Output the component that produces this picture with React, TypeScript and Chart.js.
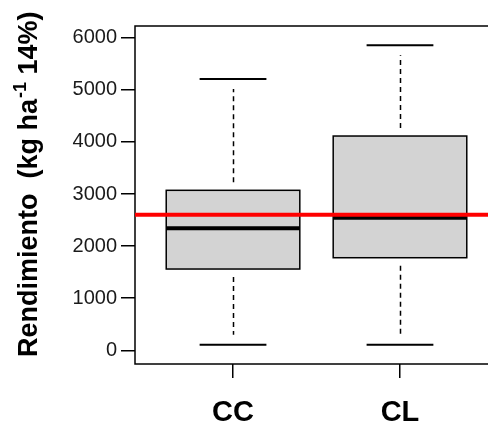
import { useEffect, useRef } from "react";
import { Chart, registerables } from "chart.js";
Chart.register(...registerables);

const categories = ["CC", "CL"];
const positions = [1, 2];
const whiskerLow = [107, 107];
const q1 = [1560, 1777];
const median = [2342, 2545];
const q3 = [3071, 4113];
const whiskerHigh = [5207, 5854];
const referenceValue = 2603;
const yTicks = [0, 1000, 2000, 3000, 4000, 5000, 6000];
const yTitleMain = "Rendimiento  (kg ha";
const yTitleSup = "-1";
const yTitleEnd = " 14%)";

const FONT = "'Liberation Sans', Arial, Helvetica, sans-serif";

export default function App() {
  const ref = useRef<HTMLCanvasElement>(null);
  useEffect(() => {
    if (!ref.current) return;
    const boxPlugin = {
      id: "boxplot",
      afterDatasetsDraw(chart: any) {
        const { ctx, chartArea: a, scales } = chart;
        const x = scales.x;
        const y = scales.y;
        ctx.save();
        const halfBox = 0.4;
        const halfCap = 0.2;
        positions.forEach((p, i) => {
          const xl = x.getPixelForValue(p - halfBox);
          const xr = x.getPixelForValue(p + halfBox);
          const xc = Math.round(x.getPixelForValue(p)) + 0.5;
          const yq1 = y.getPixelForValue(q1[i]);
          const yq3 = y.getPixelForValue(q3[i]);
          const ylo = y.getPixelForValue(whiskerLow[i]);
          const yhi = y.getPixelForValue(whiskerHigh[i]);
          const ymed = y.getPixelForValue(median[i]);
          // whiskers dashed
          ctx.strokeStyle = "#000";
          ctx.lineWidth = 1.5;
          ctx.setLineDash([5, 4]);
          ctx.beginPath();
          ctx.moveTo(xc, yq3 - 8);
          ctx.lineTo(xc, yhi + 10);
          ctx.moveTo(xc, yq1 + 8);
          ctx.lineTo(xc, ylo - 10);
          ctx.stroke();
          ctx.setLineDash([]);
          // caps
          ctx.lineWidth = 2;
          ctx.beginPath();
          ctx.moveTo(x.getPixelForValue(p - halfCap), ylo);
          ctx.lineTo(x.getPixelForValue(p + halfCap), ylo);
          ctx.moveTo(x.getPixelForValue(p - halfCap), yhi);
          ctx.lineTo(x.getPixelForValue(p + halfCap), yhi);
          ctx.stroke();
          // box
          ctx.fillStyle = "#d3d3d3";
          ctx.fillRect(xl, yq3, xr - xl, yq1 - yq3);
          ctx.lineWidth = 1.5;
          ctx.strokeRect(xl, yq3, xr - xl, yq1 - yq3);
          // median
          ctx.lineWidth = 4;
          ctx.beginPath();
          ctx.moveTo(xl, ymed);
          ctx.lineTo(xr, ymed);
          ctx.stroke();
        });
        // frame
        ctx.lineWidth = 1.5;
        ctx.strokeStyle = "#000";
        ctx.strokeRect(a.left, a.top, a.right - a.left, a.bottom - a.top);
        // reference line
        const yr = y.getPixelForValue(referenceValue);
        ctx.strokeStyle = "#ff0000";
        ctx.lineWidth = 4;
        ctx.beginPath();
        ctx.moveTo(a.left, yr);
        ctx.lineTo(a.right, yr);
        ctx.stroke();
        ctx.restore();
      },
      afterDraw(chart: any) {
        const { ctx } = chart;
        ctx.save();
        ctx.fillStyle = "#000";
        ctx.translate(37, 357);
        ctx.rotate(-Math.PI / 2);
        ctx.textAlign = "left";
        ctx.textBaseline = "alphabetic";
        ctx.font = `bold 27px ${FONT}`;
        ctx.fillText(yTitleMain, 0, 0);
        let w = ctx.measureText(yTitleMain).width;
        ctx.font = `bold 18px ${FONT}`;
        ctx.fillText(yTitleSup, w + 1, -11);
        w += ctx.measureText(yTitleSup).width + 1;
        ctx.font = `bold 27px ${FONT}`;
        ctx.fillText(yTitleEnd, w, 0);
        ctx.restore();
      },
    };

    const chart = new Chart(ref.current, {
      type: "line",
      data: { datasets: [] },
      plugins: [boxPlugin],
      options: {
        animation: false,
        responsive: false,
        events: [],
        layout: { padding: { top: 26, right: 12, left: 0, bottom: 0 } },
        plugins: { legend: { display: false }, tooltip: { enabled: false } },
        scales: {
          x: {
            type: "linear",
            min: 0.413,
            max: 2.587,
            afterBuildTicks: (s: any) => {
              s.ticks = positions.map((v) => ({ value: v }));
            },
            afterFit: (s: any) => {
              s.height = 64;
            },
            ticks: {
              callback: (v: any) => categories[positions.indexOf(Number(v))] ?? "",
              font: { family: FONT, size: 29, weight: "bold" },
              color: "#000",
              padding: 18,
              maxRotation: 0,
              autoSkip: false,
            },
            grid: {
              display: true,
              drawOnChartArea: false,
              drawTicks: true,
              tickLength: 14,
              color: "#000",
              lineWidth: 1.5,
            },
            border: { display: false },
          },
          y: {
            type: "linear",
            min: -263,
            max: 6225,
            afterBuildTicks: (s: any) => {
              s.ticks = yTicks.map((v) => ({ value: v }));
            },
            afterFit: (s: any) => {
              s.width = 135;
            },
            ticks: {
              callback: (v: any) => String(v),
              font: { family: FONT, size: 20 },
              color: "#1a1a1a",
              padding: 4,
            },
            grid: {
              display: true,
              drawOnChartArea: false,
              drawTicks: true,
              tickLength: 14,
              color: "#000",
              lineWidth: 1.5,
            },
            border: { display: false },
          },
        },
      },
    } as any);
    return () => chart.destroy();
  }, []);

  return (
    <div
      style={{
        position: "fixed",
        left: 0,
        top: 0,
        width: 488,
        height: 428,
        overflow: "hidden",
        background: "#fff",
      }}
    >
      <canvas ref={ref} width={510} height={428} style={{ display: "block" }} />
    </div>
  );
}
